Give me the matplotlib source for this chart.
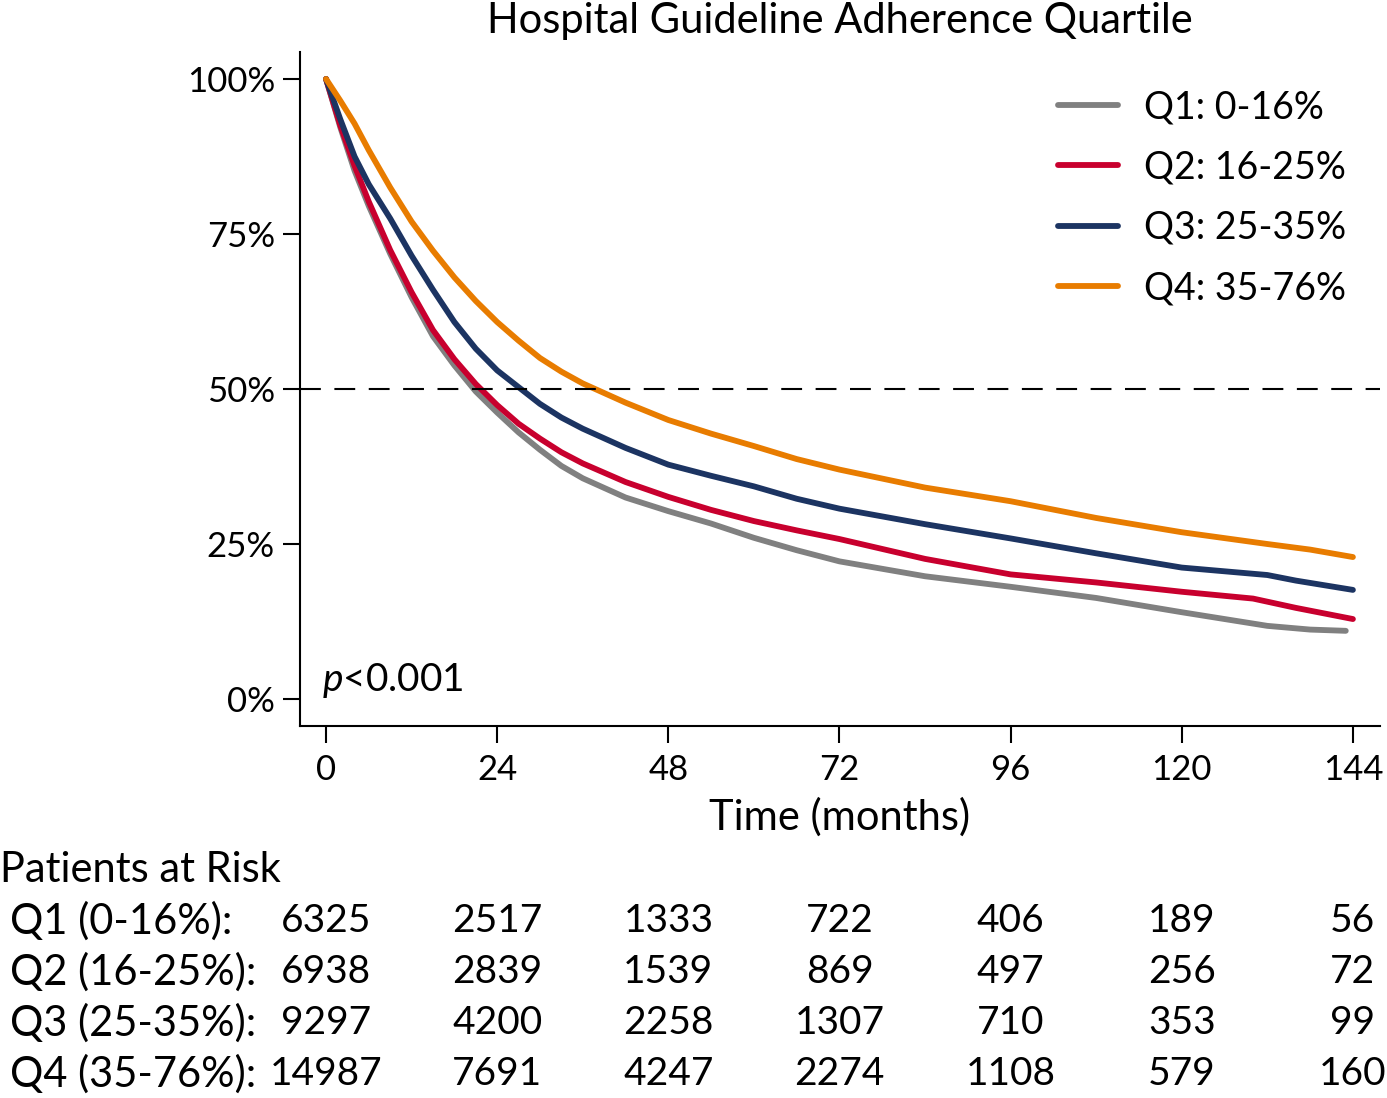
import numpy as np
import matplotlib
matplotlib.use("Agg")
import matplotlib.pyplot as plt
import matplotlib.transforms as mtransforms

plt.rcParams['font.family'] = ['Lato', 'DejaVu Sans']
plt.rcParams['mathtext.fontset'] = 'custom'
plt.rcParams['mathtext.rm'] = 'Lato'
plt.rcParams['mathtext.it'] = 'Lato:italic'

# survival curves (months, % surviving)
q1_t = [0, 2, 4, 6, 9, 12, 15, 18, 21, 24, 27, 30, 33, 36, 42, 48, 54, 60, 66, 72,
        84, 96, 108, 120, 132, 138, 143]
q1_s = [100, 92.2, 85.2, 79.5, 71.8, 64.8, 58.5, 53.8, 49.6, 46.2, 43.0, 40.2, 37.6,
        35.6, 32.5, 30.3, 28.3, 26.0, 24.0, 22.2, 19.8, 18.1, 16.3, 14.0, 11.8, 11.2, 11.0]

q2_t = [0, 2, 4, 6, 9, 12, 15, 18, 21, 24, 27, 30, 33, 36, 42, 48, 54, 60, 66, 72,
        84, 96, 108, 120, 130, 136, 144]
q2_s = [100, 92.5, 86.0, 80.2, 72.4, 65.6, 59.5, 54.8, 50.8, 47.4, 44.4, 42.0, 39.8,
        38.0, 35.0, 32.6, 30.5, 28.7, 27.2, 25.8, 22.6, 20.1, 18.8, 17.3, 16.2, 14.7, 12.9]

q3_t = [0, 2, 4, 6, 9, 12, 15, 18, 21, 24, 27, 30, 33, 36, 42, 48, 54, 60, 66, 72,
        84, 96, 108, 120, 132, 136, 144]
q3_s = [100, 93.5, 87.5, 83.0, 77.5, 71.5, 66.0, 60.8, 56.5, 53.0, 50.3, 47.6, 45.4,
        43.6, 40.5, 37.8, 36.0, 34.3, 32.3, 30.7, 28.2, 25.9, 23.5, 21.2, 20.0, 19.1, 17.6]

q4_t = [0, 2, 4, 6, 9, 12, 15, 18, 21, 24, 27, 30, 33, 36, 42, 48, 54, 60, 66, 72,
        84, 96, 108, 120, 132, 138, 144]
q4_s = [100, 96.5, 92.8, 88.5, 82.5, 77.0, 72.3, 68.0, 64.2, 60.8, 57.8, 55.0, 52.8,
        50.9, 47.8, 45.0, 42.8, 40.8, 38.7, 37.0, 34.1, 31.9, 29.2, 26.9, 25.0, 24.1, 22.9]

legend_labels = ['Q1: 0-16%', 'Q2: 16-25%', 'Q3: 25-35%', 'Q4: 35-76%']
colors = ['#808080', '#C8002E', '#1C3462', '#E87C00']

risk_times = [0, 24, 48, 72, 96, 120, 144]
risk_labels = ['Q1 (0-16%):', 'Q2 (16-25%):', 'Q3 (25-35%):', 'Q4 (35-76%):']
risk_counts = [
    [6325, 2517, 1333, 722, 406, 189, 56],
    [6938, 2839, 1539, 869, 497, 256, 72],
    [9297, 4200, 2258, 1307, 710, 353, 99],
    [14987, 7691, 4247, 2274, 1108, 579, 160],
]

W, H = 1387, 1098
tick_fs = 25
big_fs = 30

fig = plt.figure(figsize=(W / 100, H / 100), dpi=100)
ax = fig.add_axes([300 / W, 1 - 726 / H, 1080 / W, 674 / H])

curves = [(q1_t, q1_s), (q2_t, q2_s), (q3_t, q3_s), (q4_t, q4_s)]
for (t, s), c, lab in zip(curves, colors, legend_labels):
    ax.plot(t, s, color=c, lw=4.2, label=lab, solid_capstyle='round',
            solid_joinstyle='round')

ax.axhline(50, color='black', lw=1.5, dashes=(10, 6.5))

ax.set_xlim(-3.65, 147.8)
ax.set_ylim(-4.35, 104.35)
ax.set_xticks(risk_times)
ax.set_yticks([0, 25, 50, 75, 100])
ax.set_yticklabels(['0%', '25%', '50%', '75%', '100%'])
ax.tick_params(labelsize=tick_fs, length=12, width=1.5, pad=6, direction='out')
ax.tick_params(axis='x', pad=8)
for side in ['top', 'right']:
    ax.spines[side].set_visible(False)
for side in ['left', 'bottom']:
    ax.spines[side].set_linewidth(1.5)

fig.text(840 / W, 1 - 33 / H, 'Hospital Guideline Adherence Quartile',
         fontsize=big_fs, ha='center', va='baseline')
fig.text(840 / W, 1 - 817 / H, 'Time (months)', fontsize=big_fs,
         ha='center', va='center')

ax.text(-0.5, 3.0, r'$\mathit{p}$<0.001', fontsize=28, ha='left', va='center')

leg = ax.legend(loc='upper left', bbox_to_anchor=(1058 / W, 1 - 89 / H),
                bbox_transform=fig.transFigure, frameon=False, fontsize=27,
                handlelength=1.6, handletextpad=0.7, labelspacing=0.65,
                borderpad=0, borderaxespad=0)

# risk table
fig.text(0, 1 - 870 / H, 'Patients at Risk', fontsize=big_fs, ha='left', va='center')
trans = mtransforms.blended_transform_factory(ax.transData, fig.transFigure)
row_y = [921, 972, 1023, 1074]
for lab, counts, yy in zip(risk_labels, risk_counts, row_y):
    fig.text(10 / W, 1 - yy / H, lab, fontsize=big_fs, ha='left', va='center')
    for tt, n in zip(risk_times, counts):
        ax.text(tt, 1 - yy / H, str(n), fontsize=28, ha='center', va='center',
                transform=trans)

fig.savefig('out.png', dpi=100)
